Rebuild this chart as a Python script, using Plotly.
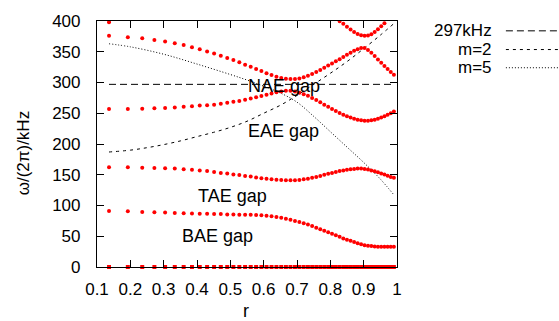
import plotly.graph_objects as go

# radial grid of the computed continuum points
R = [0.1361, 0.1925, 0.2357, 0.2722, 0.3043, 0.3333, 0.3600, 0.3849, 0.4082, 0.4303,
     0.4513, 0.4714, 0.4907, 0.5092, 0.5270, 0.5443, 0.5611, 0.5774, 0.5932, 0.6086,
     0.6236, 0.6383, 0.6527, 0.6667, 0.6804, 0.6939, 0.7071, 0.7201, 0.7328, 0.7454,
     0.7577, 0.7698, 0.7817, 0.7935, 0.8051, 0.8165, 0.8278, 0.8389, 0.8498, 0.8607,
     0.8713, 0.8819, 0.8923, 0.9027, 0.9129, 0.9230, 0.9330, 0.9428, 0.9526, 0.9623,
     0.9718, 0.9813, 0.9907]

# continuum branches (kHz)
BRANCH1 = [398, 400.5, 406, 409, 412, 415, 418, 421, 424, 427,
           430, 433, 436, 438, 440, 442, 443, 444, 445, 445,
           445, 444, 443, 441, 439, 436, 433, 429, 425, 421,
           417, 413, 409, 406, 406, 403, 399.5, 395.5, 390.5, 386,
           382, 379, 377, 376, 376.5, 378.5, 382, 386.5, 391.5, 396.5,
           401.5, 406.5, 411]
BRANCH2 = [376, 373.5, 372, 369, 366.5, 364, 361, 357.5, 354, 350.5,
           347, 343.5, 340, 336.5, 333, 329, 325.5, 322, 318.5, 315,
           312, 309.5, 307.5, 306, 305.5, 305.5, 306.5, 308.5, 311, 314,
           317, 320.5, 324, 327.5, 331, 334.5, 338, 341.5, 345, 348.5,
           351.5, 354, 356, 356, 353, 348.5, 343, 337.5, 332, 327,
           322, 317, 312.5]
BRANCH3 = [257, 257, 257.5, 258, 258.5, 259.5, 260.5, 261.5, 262.5, 263,
           264, 265.5, 267, 268.5, 270, 272, 274, 276, 278, 280,
           282, 284, 285.5, 286.5, 286.5, 285.5, 283.5, 281, 278.5, 275,
           271.5, 268, 264, 260.5, 257, 253.5, 250.5, 247.5, 245, 243,
           241, 239.5, 238.5, 238, 238, 238.5, 239.5, 241, 243, 245,
           247.5, 250, 253]
BRANCH4 = [162, 162, 161.5, 161, 160.5, 160, 159, 158, 157, 156,
           154.5, 153, 152, 150.5, 149.5, 148, 147, 145.5, 144.5, 143.5,
           142.5, 142, 141.5, 141, 141, 141, 141.5, 142.5, 143.5, 145,
           146.5, 148, 150, 151.5, 153, 154.5, 156, 157, 158, 159,
           159.5, 160, 160, 159.5, 158.5, 157, 155.5, 154, 152, 150.5,
           148.5, 146.5, 145]
BRANCH5 = [91, 90.5, 89.5, 89, 88.5, 88, 87.5, 87, 86.5, 86.5,
           86, 86, 85.5, 85.5, 85, 85, 85, 84.5, 84, 83.5,
           82.5, 81.5, 80, 78.5, 77, 75, 73, 71, 69, 66.5,
           64, 61.5, 59, 56.5, 54, 51.5, 49, 46.5, 44.5, 42.5,
           40.5, 38.5, 37, 35.5, 34.5, 34, 33.5, 33, 33, 33,
           33, 33, 33]
BRANCH0 = [0] * len(R)

# reference lines
H_R = [0.136, 0.991]
H_F = [297, 297]
M2_R = [0.136, 0.2, 0.25, 0.3, 0.35, 0.4, 0.45, 0.5, 0.55, 0.6, 0.65, 0.7, 0.75, 0.8, 0.85, 0.9, 0.95, 0.991]
M2_F = [187, 190, 194, 199, 205, 212, 219, 227, 237, 250, 263, 279, 297, 315, 334, 355, 377, 396]
M5_R = [0.136, 0.2, 0.3, 0.4, 0.5, 0.55, 0.6, 0.65, 0.7, 0.75, 0.8, 0.85, 0.9, 0.95, 0.991]
M5_F = [363, 358, 346, 330, 313, 304, 294, 283, 268, 245, 220, 195, 170, 143, 117]

LEGEND_NAMES = ["297kHz", "m=2", "m=5"]
GAP_LABELS = ["NAE gap", "EAE gap", "TAE gap", "BAE gap"]
GAP_R = [0.660, 0.659, 0.507, 0.460]
GAP_F = [295, 221, 116, 50]

X_TICKS = [0.1, 0.2, 0.3, 0.4, 0.5, 0.6, 0.7, 0.8, 0.9, 1.0]
X_TICKTEXT = ["0.1", "0.2", "0.3", "0.4", "0.5", "0.6", "0.7", "0.8", "0.9", "1"]

FONT = "Liberation Sans, Arial, sans-serif"
DASHES = ["7px,4px", "3px,4px", "1px,2px"]

fig = go.Figure()

line_sets = [(H_R, H_F), (M2_R, M2_F), (M5_R, M5_F)]
for (xs, ys), dash, name in zip(line_sets, DASHES, LEGEND_NAMES):
    fig.add_trace(go.Scatter(x=xs, y=ys, mode="lines", name=name,
                             line=dict(color="black", width=1, dash=dash, shape="spline"),
                             showlegend=False, hoverinfo="skip"))

for br in [BRANCH1, BRANCH2, BRANCH3, BRANCH4, BRANCH5]:
    fig.add_trace(go.Scatter(x=R, y=br, mode="markers",
                             marker=dict(color="#ff0000", size=4, line=dict(width=0)),
                             showlegend=False))
fig.add_trace(go.Scatter(x=R, y=BRANCH0, mode="markers", cliponaxis=False,
                         marker=dict(color="#ff0000", size=4, symbol="square", line=dict(width=0)),
                         showlegend=False))

axis_common = dict(showline=True, linecolor="black", linewidth=1.2, mirror="ticks",
                   ticks="inside", ticklen=7, tickwidth=1, tickcolor="black",
                   showgrid=False, zeroline=False,
                   tickfont=dict(family=FONT, size=17, color="black"))

fig.update_xaxes(range=[0.1, 1.0], tickvals=X_TICKS, ticktext=X_TICKTEXT,
                 ticklabelstandoff=6, **axis_common)
fig.update_yaxes(range=[0, 400], dtick=50, tick0=0, ticklabelstandoff=12, **axis_common)

annotations = []
for txt, gx, gy in zip(GAP_LABELS, GAP_R, GAP_F):
    annotations.append(dict(x=gx, y=gy, xref="x", yref="y", text=txt, showarrow=False,
                            xanchor="center", yanchor="middle",
                            font=dict(family=FONT, size=18, color="black")))

# axis titles
annotations.append(dict(x=-0.2467, y=0.466, xref="paper", yref="paper", text="ω/(2π)/kHz",
                        textangle=-90, showarrow=False, xanchor="center", yanchor="middle",
                        font=dict(family=FONT, size=17, color="black")))
annotations.append(dict(x=0.497, y=-0.18, xref="paper", yref="paper", text="r",
                        showarrow=False, xanchor="center", yanchor="middle",
                        font=dict(family=FONT, size=18, color="black")))

# legend (text on the left, sample on the right)
shapes = []
LEG_Y = [0.960, 0.884, 0.810]
for name, ly, dash in zip(LEGEND_NAMES, LEG_Y, DASHES):
    annotations.append(dict(x=1.3217, y=ly, xref="paper", yref="paper", text=name,
                            showarrow=False, xanchor="right", yanchor="middle",
                            font=dict(family=FONT, size=17, color="black")))
    shapes.append(dict(type="line", xref="paper", yref="paper", x0=1.363, x1=1.55,
                       y0=ly, y1=ly, line=dict(color="black", width=1, dash=dash)))

fig.update_layout(width=559, height=321,
                  margin=dict(l=97, r=162, t=18, b=54, pad=0),
                  plot_bgcolor="white", paper_bgcolor="white",
                  showlegend=False, annotations=annotations, shapes=shapes,
                  font=dict(family=FONT, size=17, color="black"))

fig.write_html("out.html", config={"displayModeBar": False})
